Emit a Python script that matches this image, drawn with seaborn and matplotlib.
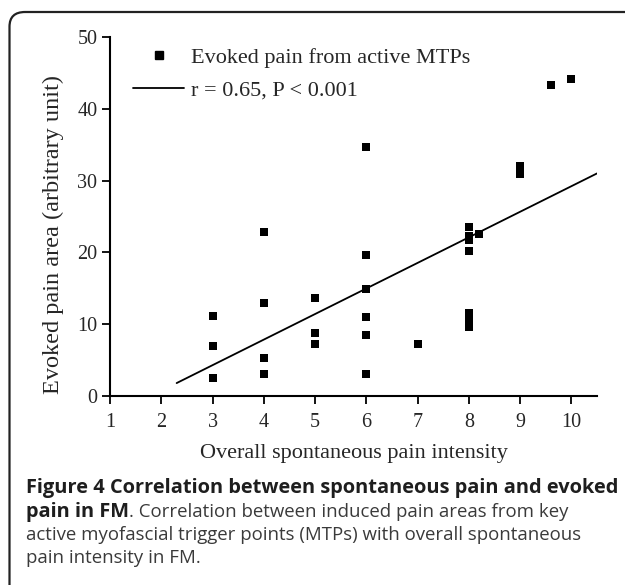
import matplotlib
matplotlib.use("Agg")
import matplotlib.pyplot as plt
from matplotlib.lines import Line2D
from matplotlib.patches import FancyBboxPatch
import seaborn as sns
import pandas as pd

# data
pain_intensity = [3, 3, 3, 4, 4, 4, 4, 5, 5, 5, 6, 6, 6, 6, 6, 6, 7,
                  8, 8, 8, 8, 8, 8, 8, 8, 8.2, 9, 9, 9.6, 10]
evoked_area = [11.2, 6.9, 2.5, 22.8, 13.0, 5.3, 3.0, 13.6, 8.8, 7.2,
               34.7, 19.7, 14.9, 11.0, 8.5, 3.0, 7.3,
               23.5, 22.3, 21.7, 20.2, 11.5, 10.9, 10.2, 9.6, 22.6,
               32.0, 30.9, 43.3, 44.2]
fit_x = [2.3, 10.5]
fit_y = [1.8, 31.0]
x_ticks = [1, 2, 3, 4, 5, 6, 7, 8, 9, 10]
y_ticks = [0, 10, 20, 30, 40, 50]
legend_labels = ["Evoked pain from active MTPs", "r = 0.65, P < 0.001"]

df = pd.DataFrame({"x": pain_intensity, "y": evoked_area})
fit = pd.DataFrame({"x": fit_x, "y": fit_y})

sns.set_style("ticks")
plt.rcParams["font.family"] = ["Liberation Serif", "DejaVu Serif"]

fig = plt.figure(figsize=(6.25, 5.85), dpi=100)
W, H = 625, 585
ax = fig.add_axes([110 / W, 1 - 396 / H, (597 - 110) / W, (396 - 37) / H])

sns.scatterplot(data=df, x="x", y="y", marker="s", s=28, color="black",
                linewidth=0, ax=ax, legend=False)
sns.lineplot(data=fit, x="x", y="y", color="black", linewidth=1.3, ax=ax)

ax.set_xlim(1, 10.5)
ax.set_ylim(0, 50)
ax.set_xticks(x_ticks)
ax.set_yticks(y_ticks)
ax.tick_params(labelsize=14.5, width=1.3, length=6, color="black", pad=3)
ax.tick_params(axis="x", pad=6)
for s in ["left", "bottom"]:
    ax.spines[s].set_linewidth(1.5)
    ax.spines[s].set_color("black")
sns.despine(ax=ax)
ax.set_xlabel("Overall spontaneous pain intensity", fontsize=16)
ax.set_ylabel("Evoked pain area (arbitrary unit)", fontsize=17.5)
ax.xaxis.set_label_coords(0.5, (396 - 444) / 359)
ax.yaxis.set_label_coords((64 - 110) / 487, (396 - 235) / 359)

handles = [
    Line2D([], [], marker="s", linestyle="none", color="black", markersize=5.2),
    Line2D([], [], color="black", linewidth=1.3),
]
ax.legend(handles, legend_labels, loc="upper left",
          bbox_to_anchor=((133 - 110) / 487, (396 - 47) / 359),
          frameon=False, fontsize=16, handlelength=2.3, handletextpad=0.3,
          labelspacing=0.55, borderpad=0, borderaxespad=0)

# figure frame with rounded corner
frame = FancyBboxPatch((9.5 / W, -0.2), 1.2, 1 - 12 / H + 0.2,
                       boxstyle="round,pad=0,rounding_size=0.025",
                       transform=fig.transFigure, fill=False,
                       edgecolor="#222222", linewidth=1.6, clip_on=False)
fig.patches.append(frame)

# caption
cap_font = ["Open Sans", "DejaVu Sans"]
cap_col = "#3a3a3a"
x0 = 26 / W
renderer = fig.canvas.get_renderer()


def fit_text(txt, x_right, base=12.0):
    w = txt.get_window_extent(renderer).width
    txt.set_fontsize(base * (x_right - txt.get_window_extent(renderer).x0) / w)
    return txt


t1 = fig.text(x0, 1 - 488 / H,
              "Figure 4 Correlation between spontaneous pain and evoked",
              family=cap_font, fontsize=12, fontweight="bold",
              color="#1e1e1e", va="center")
fit_text(t1, 617)
bold_size = t1.get_fontsize()
t2 = fig.text(x0, 1 - 512 / H, "pain in FM", family=cap_font,
              fontsize=bold_size, fontweight="bold", color="#1e1e1e",
              va="center")
t3 = fig.text(x0, 1 - 535 / H,
              "active myofascial trigger points (MTPs) with overall spontaneous",
              family=cap_font, fontsize=12, color=cap_col, va="center")
fit_text(t3, 577)
reg_size = t3.get_fontsize()
bb = t2.get_window_extent(renderer)
fig.text(bb.x1 / W, 1 - 512 / H,
         ". Correlation between induced pain areas from key",
         family=cap_font, fontsize=reg_size, color=cap_col, va="center")
fig.text(x0, 1 - 558 / H, "pain intensity in FM.",
         family=cap_font, fontsize=reg_size, color=cap_col, va="center")

fig.savefig("out.png", dpi=100)
